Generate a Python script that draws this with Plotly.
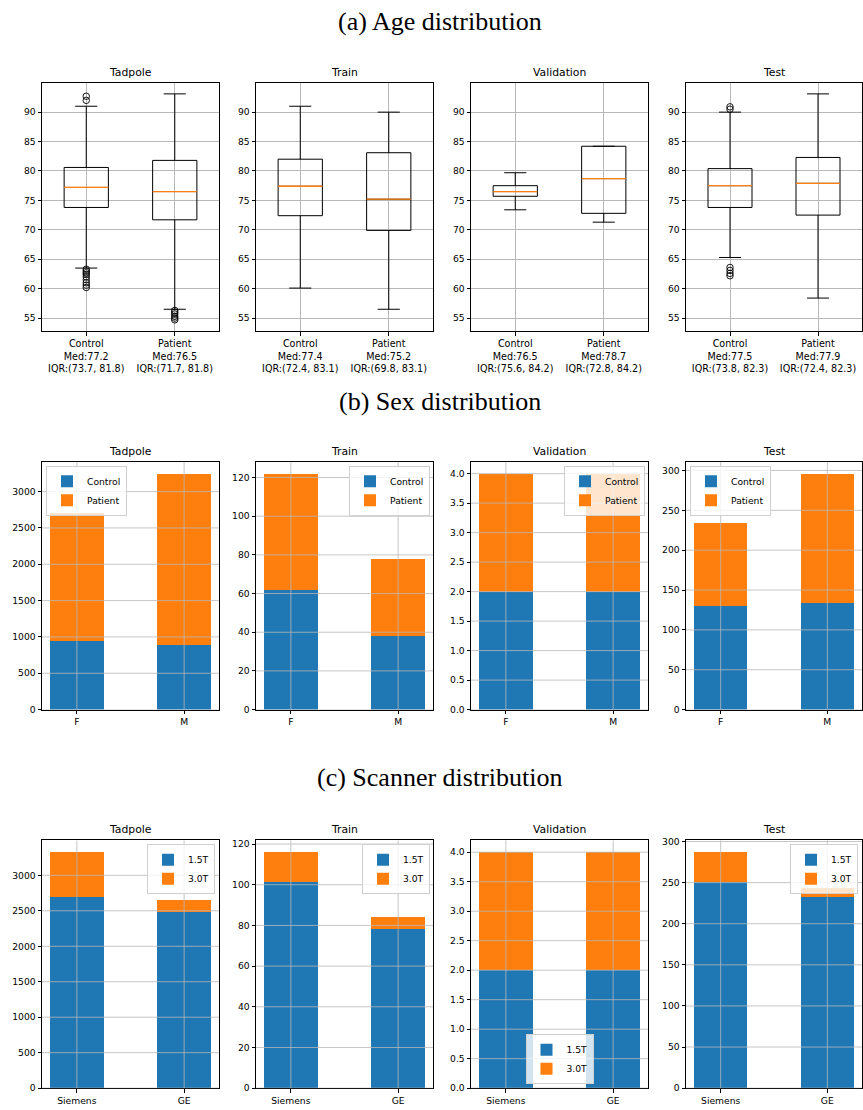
import plotly.graph_objects as go

W, H = 863, 1110

splits = ["Tadpole", "Train", "Validation", "Test"]

# ---------------- (a) Age distribution (box statistics as drawn) ----------------
age_groups = ["Control", "Patient"]
age_q1 = {"Tadpole": [73.8, 71.7], "Train": [72.4, 69.9], "Validation": [75.7, 72.8], "Test": [73.8, 72.5]}
age_median = {"Tadpole": [77.2, 76.5], "Train": [77.4, 75.2], "Validation": [76.5, 78.7], "Test": [77.5, 77.9]}
age_q3 = {"Tadpole": [80.6, 81.8], "Train": [82.0, 83.1], "Validation": [77.5, 84.2], "Test": [80.4, 82.3]}
age_lowfence = {"Tadpole": [63.5, 56.5], "Train": [60.1, 56.5], "Validation": [73.4, 71.3], "Test": [65.3, 58.4]}
age_highfence = {"Tadpole": [91.0, 93.1], "Train": [91.0, 90.0], "Validation": [79.7, 84.2], "Test": [90.0, 93.1]}
age_outliers_control = {
    "Tadpole": [92.7, 92.0, 63.3, 63.0, 62.7, 62.4, 62.0, 61.5, 61.0, 60.6, 60.2],
    "Train": [],
    "Validation": [],
    "Test": [90.9, 90.5, 63.6, 63.1, 62.6, 62.2],
}
age_outliers_patient = {
    "Tadpole": [56.3, 56.0, 55.7, 55.3, 55.0, 54.7],
    "Train": [],
    "Validation": [],
    "Test": [],
}
age_ticklabels = {
    "Tadpole": ["Control<br>Med:77.2<br>IQR:(73.7, 81.8)", "Patient<br>Med:76.5<br>IQR:(71.7, 81.8)"],
    "Train": ["Control<br>Med:77.4<br>IQR:(72.4, 83.1)", "Patient<br>Med:75.2<br>IQR:(69.8, 83.1)"],
    "Validation": ["Control<br>Med:76.5<br>IQR:(75.6, 84.2)", "Patient<br>Med:78.7<br>IQR:(72.8, 84.2)"],
    "Test": ["Control<br>Med:77.5<br>IQR:(73.8, 82.3)", "Patient<br>Med:77.9<br>IQR:(72.4, 82.3)"],
}
age_yticks = [55, 60, 65, 70, 75, 80, 85, 90]
age_yrange = [52.8, 94.9]

# ---------------- (b) Sex distribution ----------------
sex_cats = ["F", "M"]
sex_control = {"Tadpole": [945, 890], "Train": [62, 38], "Validation": [2, 2], "Test": [130, 134]}
sex_patient = {"Tadpole": [1765, 2357], "Train": [60, 40], "Validation": [2, 2], "Test": [104, 162]}

# ---------------- (c) Scanner distribution ----------------
scan_cats = ["Siemens", "GE"]
scan_15T = {"Tadpole": [2683, 2473], "Train": [101, 78], "Validation": [2, 2], "Test": [250, 232]}
scan_30T = {"Tadpole": [643, 172], "Train": [15, 6], "Validation": [2, 2], "Test": [37, 11]}

ytick_step = {"Tadpole": 500, "Train": 20, "Validation": 0.5, "Test": 50}

BLUE = "#1f77b4"
ORANGE = "#ff7f0e"
GRID = "#b8b8b8"
FONT = "DejaVu Sans"
TICKSIZE = 9.2

# ---------------- layout geometry (pixels) ----------------
col_left = [42, 256, 471, 686]
col_w = 177
row_top = [79, 461, 843]
row_bot = [329, 711, 1093]

def xdom(c):
    return [col_left[c] / W, min(862, col_left[c] + col_w) / W]

def ydom(r):
    return [1 - row_bot[r] / H, 1 - row_top[r] / H]

fig = go.Figure()
layout = dict(
    width=W, height=H,
    margin=dict(l=0, r=0, t=0, b=0),
    paper_bgcolor="white", plot_bgcolor="white",
    font=dict(family=FONT, size=TICKSIZE, color="black"),
    barmode="stack", bargap=0,
    showlegend=True,
)
annotations = []
shapes = []

def axis_common():
    return dict(showline=True, mirror=True, linecolor="black", linewidth=1,
                ticks="outside", ticklen=3.5, tickwidth=1, tickcolor="black",
                tickfont=dict(family=FONT, size=TICKSIZE, color="black"),
                zeroline=False, gridcolor=GRID, gridwidth=0.8)

def subplot_title(n, r, c, text):
    annotations.append(dict(text=text, xref="paper", yref="paper",
                            x=(xdom(c)[0] + xdom(c)[1]) / 2, y=ydom(r)[1],
                            xanchor="center", yanchor="bottom", yshift=2,
                            showarrow=False, font=dict(family=FONT, size=10.8, color="black")))

# ---------- Row a: box plots ----------
box_w = 0.5
for c, s in enumerate(splits):
    n = c + 1
    xa, ya = f"x{n}", f"y{n}"
    pos = [i + 1 for i in range(len(age_groups))]
    fig.add_trace(go.Box(
        x=pos, q1=age_q1[s], median=age_median[s], q3=age_q3[s],
        lowerfence=age_lowfence[s], upperfence=age_highfence[s],
        width=box_w, whiskerwidth=0.5, boxpoints=False,
        line=dict(color="black", width=1), fillcolor="rgba(0,0,0,0)",
        xaxis=xa, yaxis=ya, showlegend=False, hoverinfo="skip"))
    mx, my = [], []
    for p, m in zip(pos, age_median[s]):
        mx += [p - box_w / 2, p + box_w / 2, None]
        my += [m, m, None]
    fig.add_trace(go.Scatter(x=mx, y=my, mode="lines", line=dict(color=ORANGE, width=1.3),
                             xaxis=xa, yaxis=ya, showlegend=False, hoverinfo="skip"))
    for p, outs in zip(pos, [age_outliers_control[s], age_outliers_patient[s]]):
        if outs:
            fig.add_trace(go.Scatter(x=[p] * len(outs), y=outs, mode="markers",
                                     marker=dict(symbol="circle-open", size=6.5, color="black",
                                                 line=dict(width=0.9, color="black")),
                                     xaxis=xa, yaxis=ya, showlegend=False, hoverinfo="skip"))
    xd = axis_common()
    xd.update(domain=xdom(c), anchor=ya, range=[0.5, 2.5], tickvals=pos,
              ticktext=age_ticklabels[s], showgrid=True,
              tickfont=dict(family=FONT, size=9.6, color="black"))
    yd = axis_common()
    yd.update(domain=ydom(0), anchor=xa, range=age_yrange, tickvals=age_yticks, showgrid=True)
    layout[f"xaxis{n}"] = xd
    layout[f"yaxis{n}"] = yd
    subplot_title(n, 0, c, s)

# ---------- legends ----------
legend_pos = {
    # key: (x_px, y_px, xanchor, yanchor)
    (1, 0): (46, 465, "left", "top"),
    (1, 1): (430, 465, "right", "top"),
    (1, 2): (645, 465, "right", "top"),
    (1, 3): (690, 465, "left", "top"),
    (2, 0): (215, 847, "right", "top"),
    (2, 1): (430, 847, "right", "top"),
    (2, 2): (559.5, 1089, "center", "bottom"),
    (2, 3): (858, 847, "right", "top"),
}

def bar_panel(r, c, s, cats, lower, upper, names):
    n = r * 4 + c + 1
    xa, ya = f"x{n}", f"y{n}"
    leg = "legend" if n == 5 else f"legend{n}"
    xs = list(range(len(cats)))
    fig.add_trace(go.Bar(x=xs, y=lower, width=0.5, name=names[0], marker=dict(color=BLUE, line=dict(width=0)),
                         xaxis=xa, yaxis=ya, legend=leg, hoverinfo="skip"))
    fig.add_trace(go.Bar(x=xs, y=upper, width=0.5, name=names[1], marker=dict(color=ORANGE, line=dict(width=0)),
                         xaxis=xa, yaxis=ya, legend=leg, hoverinfo="skip"))
    totals = [a + b for a, b in zip(lower, upper)]
    ymax = max(totals) * 1.05
    step = ytick_step[s]
    ticks = []
    t = 0.0
    while t <= ymax + 1e-9:
        ticks.append(t)
        t += step
    xd = axis_common()
    xd.update(domain=xdom(c), anchor=ya, range=[-0.325, len(cats) - 1 + 0.325],
              tickvals=xs, ticktext=cats, showgrid=False)
    yd = axis_common()
    yd.update(domain=ydom(r), anchor=xa, range=[0, ymax], tickvals=ticks, showgrid=False,
              tickformat=".1f" if step < 1 else "d")
    layout[f"xaxis{n}"] = xd
    layout[f"yaxis{n}"] = yd
    subplot_title(n, r, c, s)
    # grid drawn above the bars, like the reference
    for tv in ticks:
        shapes.append(dict(type="line", layer="above", xref=f"{xa} domain", x0=0, x1=1,
                           yref=ya, y0=tv, y1=tv, line=dict(color=GRID, width=0.8)))
    for xv in xs:
        shapes.append(dict(type="line", layer="above", xref=xa, x0=xv, x1=xv,
                           yref=f"{ya} domain", y0=0, y1=1, line=dict(color=GRID, width=0.8)))
    px, py, xan, yan = legend_pos[(r, c)]
    layout[leg] = dict(x=px / W, y=1 - py / H, xanchor=xan, yanchor=yan,
                       bgcolor="rgba(255,255,255,0.8)", bordercolor="#d0d0d0", borderwidth=1,
                       font=dict(family=FONT, size=TICKSIZE, color="black"),
                       itemwidth=30, tracegroupgap=0, traceorder="normal")

for c, s in enumerate(splits):
    bar_panel(1, c, s, sex_cats, sex_control[s], sex_patient[s], ["Control", "Patient"])
for c, s in enumerate(splits):
    bar_panel(2, c, s, scan_cats, scan_15T[s], scan_30T[s], ["1.5T", "3.0T"])

# ---------- section titles ----------
section_titles = ["(a) Age distribution", "(b) Sex distribution", "(c) Scanner distribution"]
section_y = [17, 400, 780]
for t, yy in zip(section_titles, section_y):
    annotations.append(dict(text=t, xref="paper", yref="paper", x=440 / W, y=1 - yy / H,
                            xanchor="center", yanchor="middle", showarrow=False,
                            font=dict(family="Liberation Serif", size=26, color="black")))

layout["annotations"] = annotations
layout["shapes"] = shapes
fig.update_layout(**layout)
fig.write_html("out.html", config={"displayModeBar": False},
               post_script="document.body.style.margin='0';document.body.style.overflow='hidden';")
